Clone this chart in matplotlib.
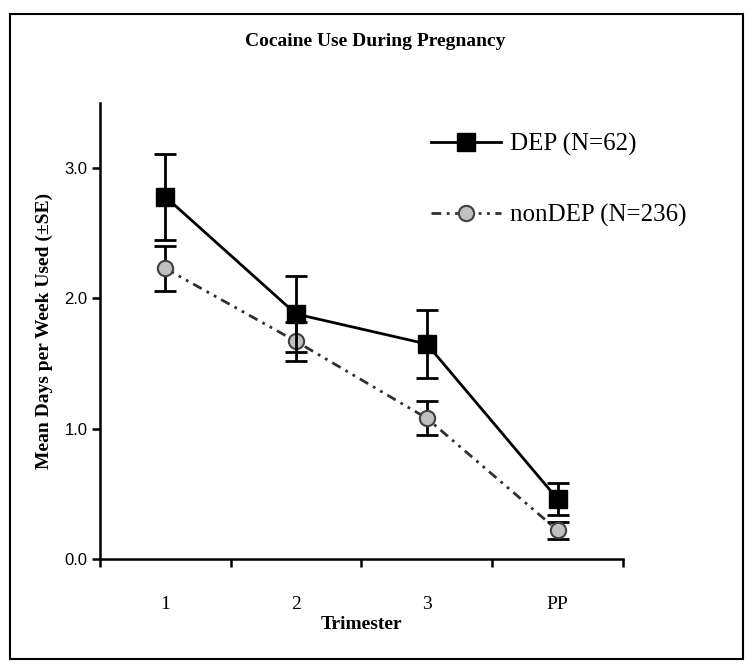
import matplotlib
matplotlib.use("Agg")
import matplotlib.pyplot as plt
from matplotlib.patches import Rectangle

# ================= DATA =================
categories = ["1", "2", "3", "PP"]
dep_mean = [2.78, 1.88, 1.65, 0.46]
dep_se = [0.33, 0.29, 0.26, 0.12]
nondep_mean = [2.23, 1.67, 1.08, 0.22]
nondep_se = [0.17, 0.15, 0.13, 0.065]
dep_label = "DEP (N=62)"
nondep_label = "nonDEP (N=236)"

serif = "Liberation Serif"
sans = "Liberation Sans"

# ================= FIGURE =================
fig = plt.figure(figsize=(7.5, 6.66), dpi=100)
ax = fig.add_axes([0.1333, 0.1607, 0.6973, 0.6847])

x = [i + 0.5 for i in range(len(categories))]

# nonDEP series
ax.errorbar(x, nondep_mean, yerr=nondep_se, fmt="none", ecolor="black",
            elinewidth=2, capsize=8, capthick=2, zorder=2)
ax.plot(x, nondep_mean, color="#303030", lw=2,
        linestyle=(0, (3.5, 2, 1, 2, 1, 2)),
        marker="o", markersize=11, markerfacecolor="#c0c0c0",
        markeredgecolor="#404040", markeredgewidth=1.5,
        label=nondep_label, zorder=3)

# DEP series
ax.errorbar(x, dep_mean, yerr=dep_se, fmt="none", ecolor="black",
            elinewidth=2, capsize=8, capthick=2, zorder=4)
ax.plot(x, dep_mean, color="black", lw=2, linestyle="-",
        marker="s", markersize=13, markerfacecolor="black",
        markeredgecolor="black", label=dep_label, zorder=5)

# axes
ax.set_xlim(0, 4)
ax.set_ylim(0, 3.5)
ax.set_xticks(range(5))
ax.set_xticklabels([])
ax.set_xticks(x, minor=True)
ax.set_xticklabels(categories, minor=True, fontfamily=serif, fontsize=14)
ax.tick_params(axis="x", which="minor", length=0, pad=27)
ax.tick_params(axis="x", which="major", length=6, width=1.8, direction="out")
ax.set_yticks([0, 1, 2, 3])
ax.set_yticklabels(["0.0", "1.0", "2.0", "3.0"], fontfamily=sans, fontsize=12)
ax.tick_params(axis="y", length=6, width=1.8, direction="out", pad=3)

for side in ["top", "right"]:
    ax.spines[side].set_visible(False)
for side in ["left", "bottom"]:
    ax.spines[side].set_linewidth(1.8)

ax.set_xlabel("Trimester", fontfamily=serif, fontsize=14, fontweight="bold", labelpad=2)
ax.set_ylabel("Mean Days per Week Used (\u00b1SE)", fontfamily=serif, fontsize=14,
              fontweight="bold", labelpad=8)

# legend (DEP first)
handles, labels = ax.get_legend_handles_labels()
leg = fig.legend(handles[::-1], labels[::-1], loc="upper left",
                 bbox_to_anchor=(0.575, 0.80), frameon=False,
                 prop={"family": serif, "size": 18},
                 handlelength=2.8, handletextpad=0.35, labelspacing=1.9,
                 borderpad=0, borderaxespad=0)

# title
fig.text(0.5, 0.937, "Cocaine Use During Pregnancy", ha="center", va="center",
         fontfamily=serif, fontsize=14, fontweight="bold")

# outer frame
fig.patches.append(Rectangle((10 / 750, 7 / 666), 733 / 750, 645 / 666,
                             transform=fig.transFigure, fill=False,
                             edgecolor="black", lw=1.5))

fig.savefig("out.png", dpi=100)
